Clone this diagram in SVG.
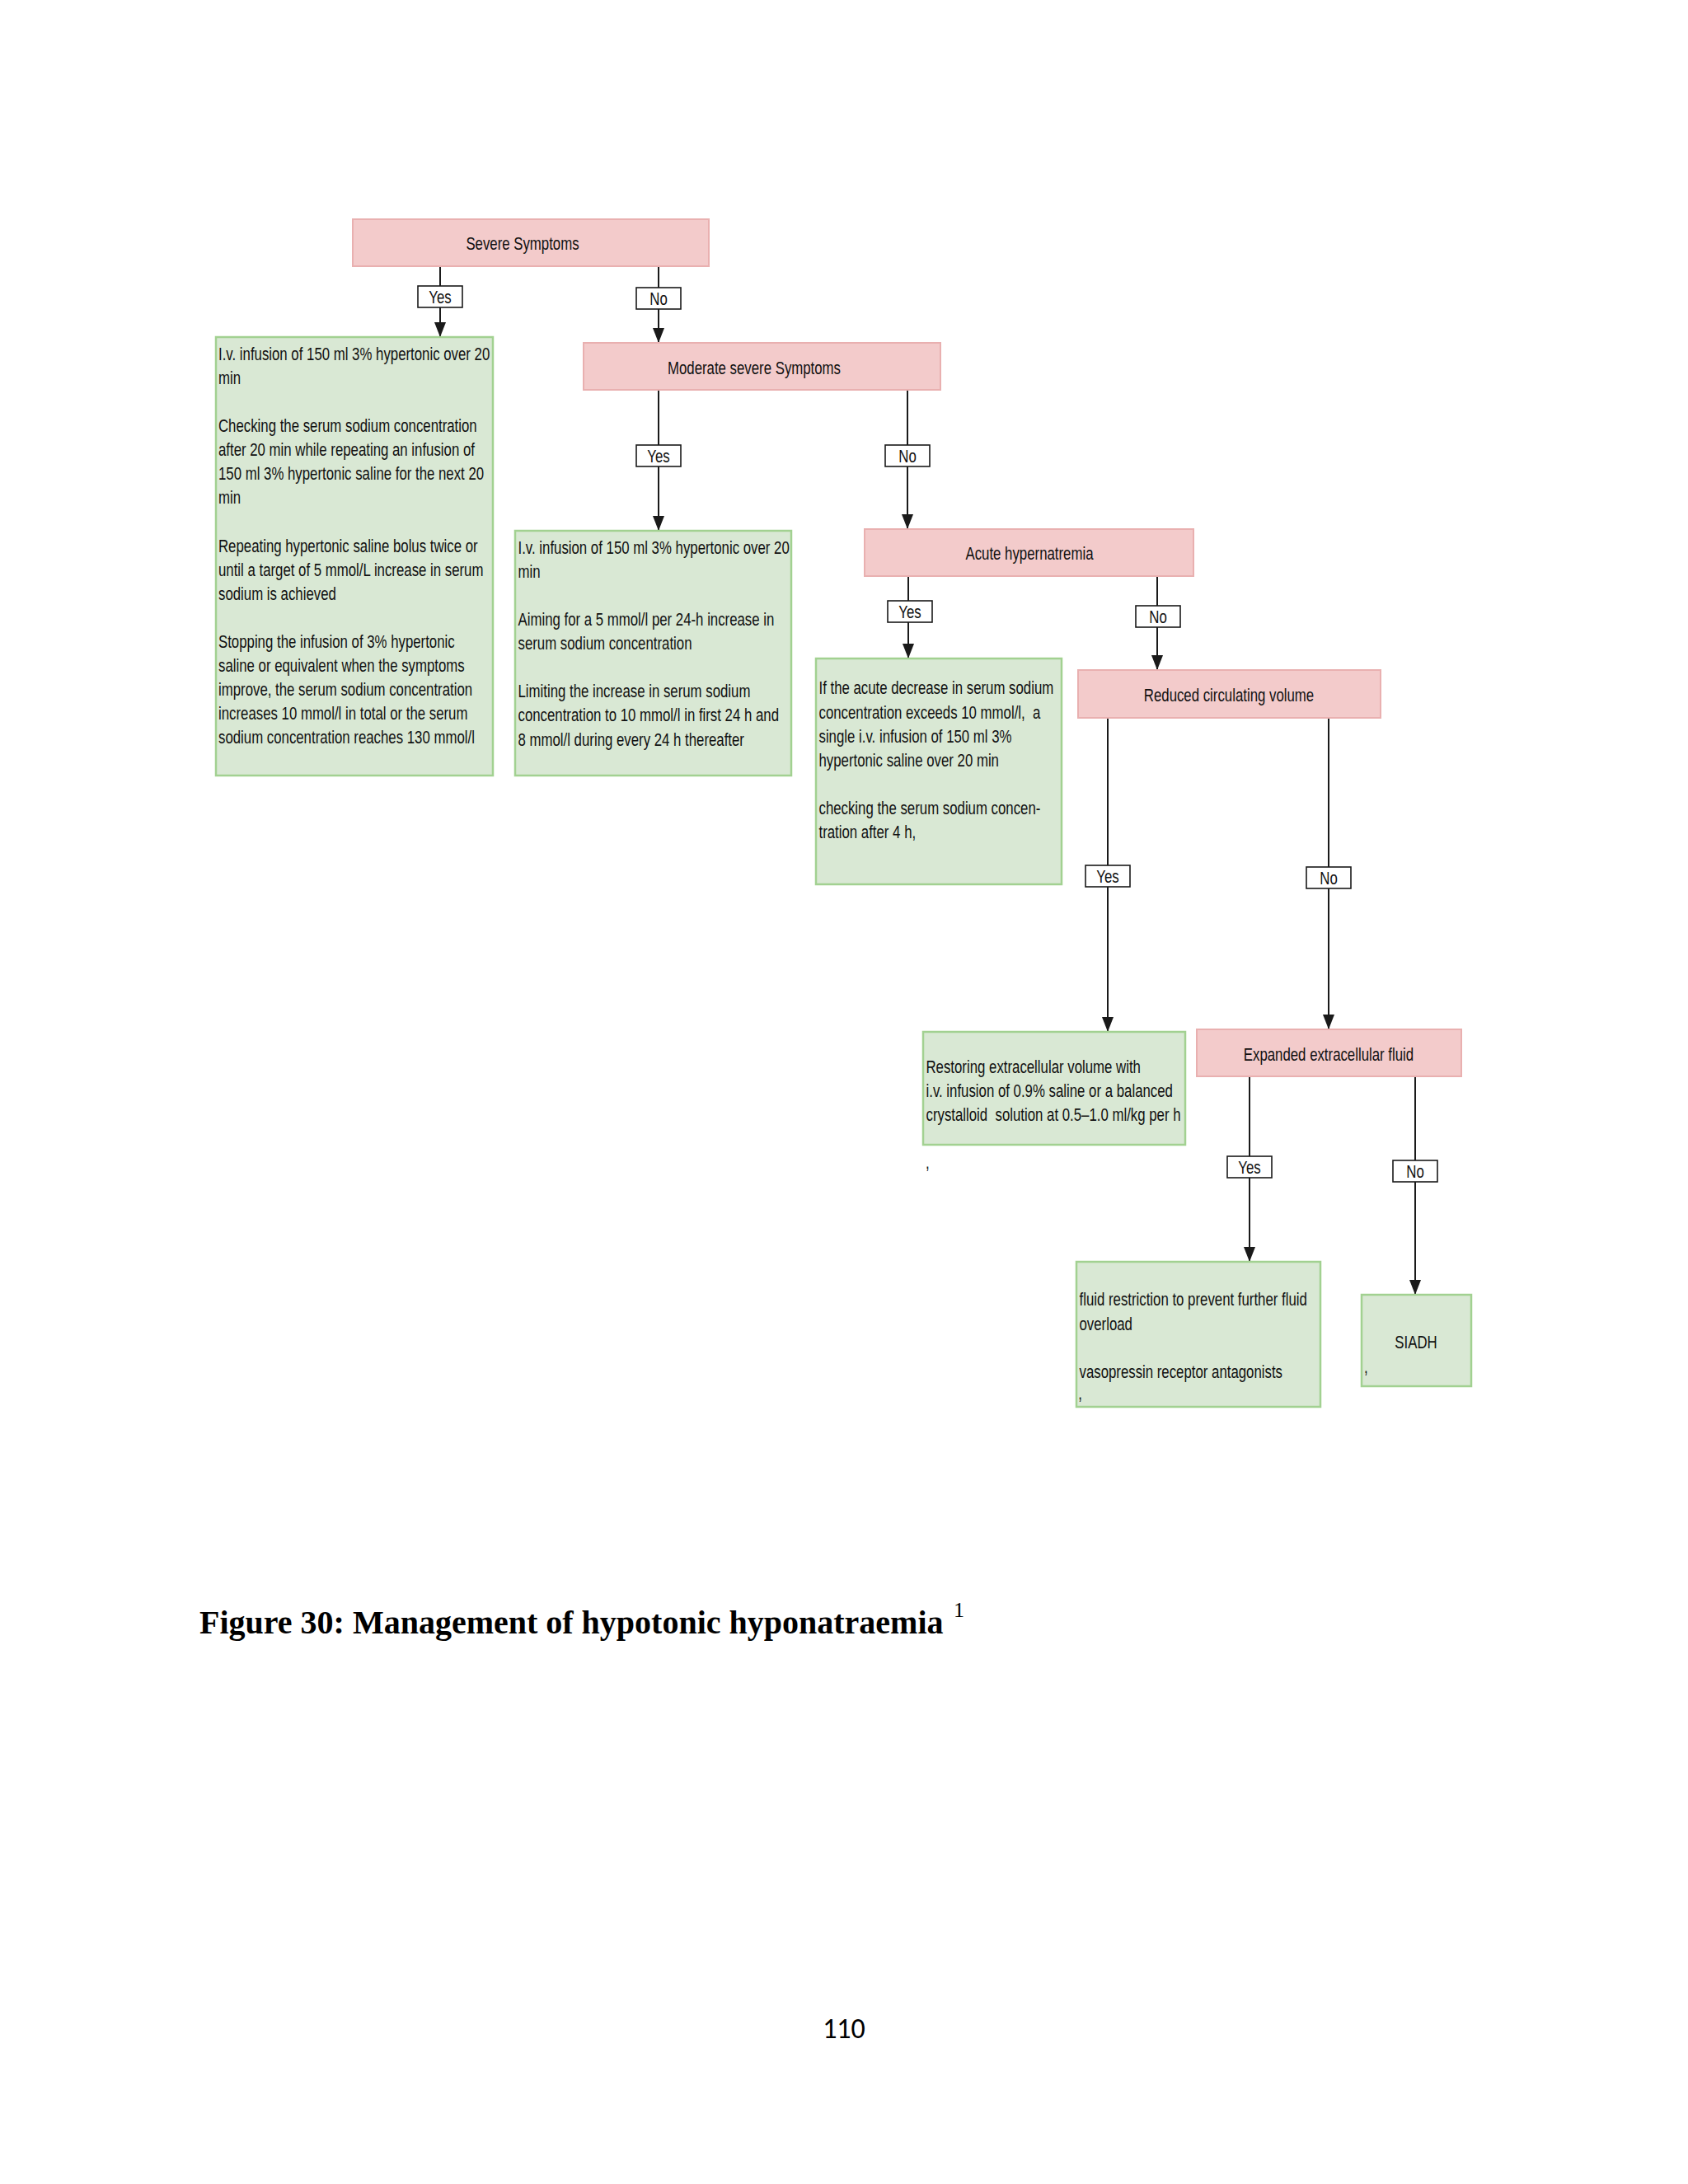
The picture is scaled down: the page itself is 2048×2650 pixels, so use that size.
<svg xmlns="http://www.w3.org/2000/svg" width="2048" height="2650" viewBox="0 0 2048 2650">
<defs>
<style>
.t{font-family:"Liberation Sans",Arial,sans-serif;font-size:22.5px;fill:#111}
.c{text-anchor:middle}
.pink{fill:#f3cbcb;stroke:#e9b0b0;stroke-width:2}
.green{fill:#d9e8d4;stroke:#a2d191;stroke-width:2.5}
.edge{stroke:#1a1a1a;stroke-width:2;fill:none;marker-end:url(#arr)}
.lbl{fill:#fff;stroke:#1a1a1a;stroke-width:1.6}
.cap{font-family:"Liberation Serif","Times New Roman",serif;font-weight:bold;font-size:40px;fill:#000}
.sup{font-family:"Liberation Serif","Times New Roman",serif;font-size:26px;fill:#000}
.pg{font-family:Carlito,"Open Sans",sans-serif;font-size:34px;fill:#000;text-anchor:middle}
</style>
<marker id="arr" viewBox="0 0 18 14" markerWidth="18" markerHeight="14" refX="18" refY="7" orient="auto" markerUnits="userSpaceOnUse">
<path d="M0,0 L18,7 L0,14 z" fill="#1a1a1a"/>
</marker>
</defs>
<rect width="2048" height="2650" fill="#fff"/>

<g id="connectors">
<g id="e1"><line class="edge" x1="534" y1="323" x2="534" y2="409"/><rect class="lbl" x="507" y="347" width="54" height="26"/><text class="t c" x="534" y="368" transform="matrix(0.7471 0 0 1 135.05 0)">Yes</text></g>
<g id="e2"><line class="edge" x1="799" y1="323" x2="799" y2="416"/><rect class="lbl" x="772" y="349" width="54" height="26"/><text class="t c" x="799" y="370" transform="matrix(0.7471 0 0 1 202.07 0)">No</text></g>
<g id="e3"><line class="edge" x1="799" y1="473" x2="799" y2="644"/><rect class="lbl" x="772" y="540" width="54" height="26"/><text class="t c" x="799" y="561" transform="matrix(0.7471 0 0 1 202.07 0)">Yes</text></g>
<g id="e4"><line class="edge" x1="1101" y1="473" x2="1101" y2="642"/><rect class="lbl" x="1074" y="540" width="54" height="26"/><text class="t c" x="1101" y="561" transform="matrix(0.7471 0 0 1 278.44 0)">No</text></g>
<g id="e5"><line class="edge" x1="1102" y1="699" x2="1102" y2="799"/><rect class="lbl" x="1077" y="729" width="54" height="26"/><text class="t c" x="1104" y="750" transform="matrix(0.7471 0 0 1 279.2 0)">Yes</text></g>
<g id="e6"><line class="edge" x1="1404" y1="699" x2="1404" y2="813"/><rect class="lbl" x="1378" y="735" width="54" height="26"/><text class="t c" x="1405" y="756" transform="matrix(0.7471 0 0 1 355.32 0)">No</text></g>
<g id="e7"><line class="edge" x1="1344" y1="871" x2="1344" y2="1252"/><rect class="lbl" x="1317" y="1050" width="54" height="26"/><text class="t c" x="1344" y="1071" transform="matrix(0.7471 0 0 1 339.9 0)">Yes</text></g>
<g id="e8"><line class="edge" x1="1612" y1="871" x2="1612" y2="1249"/><rect class="lbl" x="1585" y="1052" width="54" height="26"/><text class="t c" x="1612" y="1073" transform="matrix(0.7471 0 0 1 407.67 0)">No</text></g>
<g id="e9"><line class="edge" x1="1516" y1="1306" x2="1516" y2="1531"/><rect class="lbl" x="1489" y="1403" width="54" height="26"/><text class="t c" x="1516" y="1424" transform="matrix(0.7471 0 0 1 383.4 0)">Yes</text></g>
<g id="e10"><line class="edge" x1="1717" y1="1306" x2="1717" y2="1571"/><rect class="lbl" x="1690" y="1408" width="54" height="26"/><text class="t c" x="1717" y="1429" transform="matrix(0.7471 0 0 1 434.23 0)">No</text></g>
</g>

<g id="n-severe"><rect class="pink" x="428" y="266" width="432" height="57"/><text class="t c" x="634" y="303.5" transform="matrix(0.7471 0 0 1 160.34 0)">Severe Symptoms</text></g>

<g id="n-box1"><rect class="green" x="262" y="409" width="336" height="532"/>
<text class="t" transform="matrix(0.7471 0 0 1 67.02 0)">
<tspan x="265" y="437">I.v. infusion of 150 ml 3% hypertonic over 20</tspan>
<tspan x="265" y="466.1">min</tspan>
<tspan x="265" y="524.2">Checking the serum sodium concentration</tspan>
<tspan x="265" y="553.3">after 20 min while repeating an infusion of</tspan>
<tspan x="265" y="582.4">150 ml 3% hypertonic saline for the next 20</tspan>
<tspan x="265" y="611.4">min</tspan>
<tspan x="265" y="669.6">Repeating hypertonic saline bolus twice or</tspan>
<tspan x="265" y="698.6">until a target of 5 mmol/L increase in serum</tspan>
<tspan x="265" y="727.7">sodium is achieved</tspan>
<tspan x="265" y="785.8">Stopping the infusion of 3% hypertonic</tspan>
<tspan x="265" y="814.9">saline or equivalent when the symptoms</tspan>
<tspan x="265" y="844">improve, the serum sodium concentration</tspan>
<tspan x="265" y="873.1">increases 10 mmol/l in total or the serum</tspan>
<tspan x="265" y="902.1">sodium concentration reaches 130 mmol/l</tspan>
</text></g>

<g id="n-moderate"><rect class="pink" x="708" y="416" width="433" height="57"/><text class="t c" x="915" y="454" transform="matrix(0.7471 0 0 1 231.4 0)">Moderate severe Symptoms</text></g>

<g id="n-box2"><rect class="green" x="625" y="644" width="335" height="297"/>
<text class="t" transform="matrix(0.7471 0 0 1 158.95 0)">
<tspan x="628.5" y="672">I.v. infusion of 150 ml 3% hypertonic over 20</tspan>
<tspan x="628.5" y="701.1">min</tspan>
<tspan x="628.5" y="759.2">Aiming for a 5 mmol/l per 24-h increase in</tspan>
<tspan x="628.5" y="788.3">serum sodium concentration</tspan>
<tspan x="628.5" y="846.4">Limiting the increase in serum sodium</tspan>
<tspan x="628.5" y="875.5">concentration to 10 mmol/l in first 24 h and</tspan>
<tspan x="628.5" y="904.6">8 mmol/l during every 24 h thereafter</tspan>
</text></g>

<g id="n-acute"><rect class="pink" x="1049" y="642" width="399" height="57"/><text class="t c" x="1249" y="679" transform="matrix(0.7471 0 0 1 315.87 0)">Acute hypernatremia</text></g>

<g id="n-box3"><rect class="green" x="990" y="799" width="298" height="274"/>
<text class="t" transform="matrix(0.7471 0 0 1 251.26 0)">
<tspan x="993.5" y="842.5">If the acute decrease in serum sodium</tspan>
<tspan x="993.5" y="871.6">concentration exceeds 10 mmol/l,&#160; a</tspan>
<tspan x="993.5" y="900.6">single i.v. infusion of 150 ml 3%</tspan>
<tspan x="993.5" y="929.7">hypertonic saline over 20 min</tspan>
<tspan x="993.5" y="987.9">checking the serum sodium concen-</tspan>
<tspan x="993.5" y="1016.9">tration after 4 h,</tspan>
</text></g>

<g id="n-reduced"><rect class="pink" x="1308" y="813" width="367" height="58"/><text class="t c" x="1491" y="851" transform="matrix(0.7471 0 0 1 377.07 0)">Reduced circulating volume</text></g>

<g id="n-box4"><rect class="green" x="1120" y="1252" width="318" height="137"/>
<text class="t" transform="matrix(0.7471 0 0 1 284.13 0)">
<tspan x="1123.5" y="1302.3">Restoring extracellular volume with</tspan>
<tspan x="1123.5" y="1331.4">i.v. infusion of 0.9% saline or a balanced</tspan>
<tspan x="1123.5" y="1360.5">crystalloid&#160; solution at 0.5–1.0 ml/kg per h</tspan>
</text></g>
<text class="t" x="1123" y="1418" transform="matrix(0.7471 0 0 1 284.01 0)">,</text>

<g id="n-expanded"><rect class="pink" x="1452" y="1249" width="321" height="57"/><text class="t c" x="1612" y="1287" transform="matrix(0.7471 0 0 1 407.67 0)">Expanded extracellular fluid</text></g>

<g id="n-box5"><rect class="green" x="1306" y="1531" width="296" height="176"/>
<text class="t" transform="matrix(0.7471 0 0 1 331.17 0)">
<tspan x="1309.5" y="1584.5">fluid restriction to prevent further fluid</tspan>
<tspan x="1309.5" y="1613.6">overload</tspan>
<tspan x="1309.5" y="1671.7">vasopressin receptor antagonists</tspan>
<tspan x="1308" y="1698">,</tspan>
</text></g>

<g id="n-siadh"><rect class="green" x="1652" y="1571" width="133" height="111"/><text class="t c" x="1718" y="1636.5" transform="matrix(0.7471 0 0 1 434.48 0)">SIADH</text><text class="t" x="1655" y="1666" transform="matrix(0.7471 0 0 1 418.55 0)">,</text></g>

<text class="cap" x="242" y="1982">Figure 30: Management of hypotonic hyponatraemia</text>
<text class="sup" x="1157" y="1962">1</text>
<text class="pg" x="1024" y="2473">110</text>
</svg>
